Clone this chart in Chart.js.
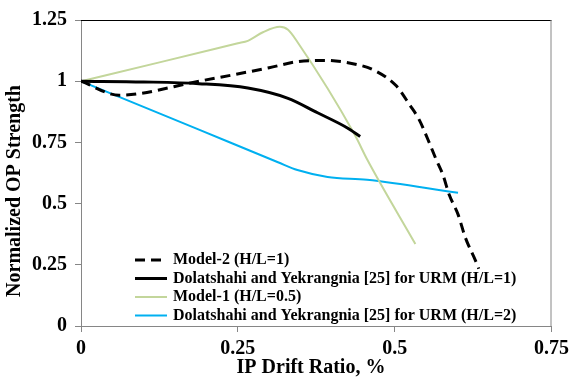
<!DOCTYPE html>
<html>
<head>
<meta charset="utf-8">
<script src="https://cdn.jsdelivr.net/npm/chart.js@4/dist/chart.umd.min.js"></script>
<style>
  html, body { margin: 0; padding: 0; background: #fff; }
  #wrap { width: 574px; height: 382px; }
</style>
</head>
<body>
<div id="wrap"><canvas id="report_chart" width="574" height="382"></canvas></div>
<script>
var model2_x = [0, 0.061, 0.188, 0.3, 0.345, 0.388, 0.44, 0.468, 0.503, 0.524, 0.539, 0.553, 0.566, 0.577, 0.587, 0.601, 0.613, 0.629, 0.634];
var model2_y = [1.0, 0.943, 1.0, 1.055, 1.08, 1.085, 1.068, 1.044, 0.98, 0.903, 0.843, 0.762, 0.681, 0.617, 0.536, 0.456, 0.359, 0.266, 0.234];

var urm1_x = [0, 0.1, 0.188, 0.266, 0.33, 0.377, 0.424, 0.445];
var urm1_y = [1.0, 0.997, 0.99, 0.972, 0.93, 0.871, 0.81, 0.774];

var model1_x = [0, 0.125, 0.25, 0.266, 0.29, 0.317, 0.33, 0.345, 0.437, 0.456, 0.533];
var model1_y = [1.0, 1.077, 1.155, 1.165, 1.2, 1.222, 1.21, 1.16, 0.778, 0.681, 0.335];

var urm2_x = [0, 0.188, 0.314, 0.345, 0.393, 0.456, 0.601];
var urm2_y = [1.0, 0.802, 0.669, 0.637, 0.609, 0.597, 0.544];

var x_ticks = [0, 0.25, 0.5, 0.75];
var y_ticks = [0, 0.25, 0.5, 0.75, 1, 1.25];

var x_title = 'IP Drift Ratio, %';
var y_title = 'Normalized OP Strength';

function pts(xs, ys) {
  var out = [];
  for (var i in xs) out.push({x: xs[i], y: ys[i]});
  return out;
}

var serif = "'Liberation Serif', 'Times New Roman', serif";
var axisGray = '#868686';

var chartdata = {
  datasets: [
    {
      label: 'Model-2 (H/L=1)',
      data: pts(model2_x, model2_y),
      borderColor: '#000000',
      borderWidth: 3,
      borderDash: [10, 6]
    },
    {
      label: 'Dolatshahi and Yekrangnia [25] for URM (H/L=1)',
      data: pts(urm1_x, urm1_y),
      borderColor: '#000000',
      borderWidth: 3
    },
    {
      label: 'Model-1 (H/L=0.5)',
      data: pts(model1_x, model1_y),
      borderColor: '#c3d69b',
      borderWidth: 2
    },
    {
      label: 'Dolatshahi and Yekrangnia [25] for URM (H/L=2)',
      data: pts(urm2_x, urm2_y),
      borderColor: '#00b0f0',
      borderWidth: 2
    }
  ]
};

// legend inside the plot, axis titles, top / right frame lines
var framePlugin = {
  id: 'frame',
  afterDraw: function(chart) {
    var ctx = chart.ctx, a = chart.chartArea;
    ctx.save();
    ctx.lineWidth = 1;
    ctx.strokeStyle = '#000';
    ctx.beginPath();
    ctx.moveTo(a.left, a.top + 0.5);
    ctx.lineTo(a.right, a.top + 0.5);
    ctx.stroke();
    ctx.strokeStyle = axisGray;
    ctx.beginPath();
    ctx.moveTo(a.right - 0.5, a.top);
    ctx.lineTo(a.right - 0.5, a.bottom);
    ctx.stroke();

    ctx.fillStyle = '#000';
    ctx.font = 'bold 20px ' + serif;
    ctx.textAlign = 'center';
    ctx.textBaseline = 'middle';
    ctx.fillText(x_title, 311, 368);
    ctx.save();
    ctx.translate(15, 191);
    ctx.rotate(-Math.PI / 2);
    ctx.fillText(y_title, 0, 0);
    ctx.restore();

    var lx = 135, tx = 173, y0 = 260, dy = 18.5;
    ctx.font = 'bold 16px ' + serif;
    ctx.textAlign = 'left';
    chart.data.datasets.forEach(function(ds, i) {
      var y = y0 + i * dy;
      ctx.strokeStyle = ds.borderColor;
      ctx.lineWidth = ds.borderWidth;
      ctx.setLineDash(ds.borderDash || []);
      ctx.beginPath();
      ctx.moveTo(lx, y);
      ctx.lineTo(lx + 32, y);
      ctx.stroke();
      ctx.setLineDash([]);
      ctx.fillText(ds.label, tx, y);
    });
    ctx.restore();
  }
};

var ctx = document.getElementById('report_chart');

var lineGraph = new Chart(ctx, {
  type: 'scatter',
  data: chartdata,
  plugins: [framePlugin],
  options: {
    responsive: false,
    animation: false,
    showLine: true,
    elements: {
      point: { radius: 0 },
      line: { cubicInterpolationMode: 'monotone', fill: false }
    },
    layout: { padding: { left: 0, top: 16, right: 19, bottom: 0 } },
    plugins: {
      legend: { display: false },
      tooltip: { enabled: false }
    },
    scales: {
      x: {
        type: 'linear',
        min: 0, max: 0.75,
        afterBuildTicks: function(s) { s.ticks = x_ticks.map(function(v) { return {value: v}; }); },
        afterFit: function(s) { s.height = 56; },
        grid: { drawOnChartArea: false, drawTicks: true, tickLength: 6, color: axisGray },
        border: { color: axisGray },
        ticks: {
          color: '#000',
          padding: 5,
          font: { family: serif, size: 20, weight: 'bold' },
          callback: function(v) { return String(v); }
        }
      },
      y: {
        min: 0, max: 1.25,
        afterBuildTicks: function(s) { s.ticks = y_ticks.map(function(v) { return {value: v}; }); },
        afterFit: function(s) { s.width = 81; },
        grid: { drawOnChartArea: false, drawTicks: true, tickLength: 6, color: axisGray },
        border: { color: axisGray },
        ticks: {
          color: '#000',
          padding: 8,
          font: { family: serif, size: 20, weight: 'bold' },
          callback: function(v) { return String(v); }
        }
      }
    }
  }
});
</script>
</body>
</html>
